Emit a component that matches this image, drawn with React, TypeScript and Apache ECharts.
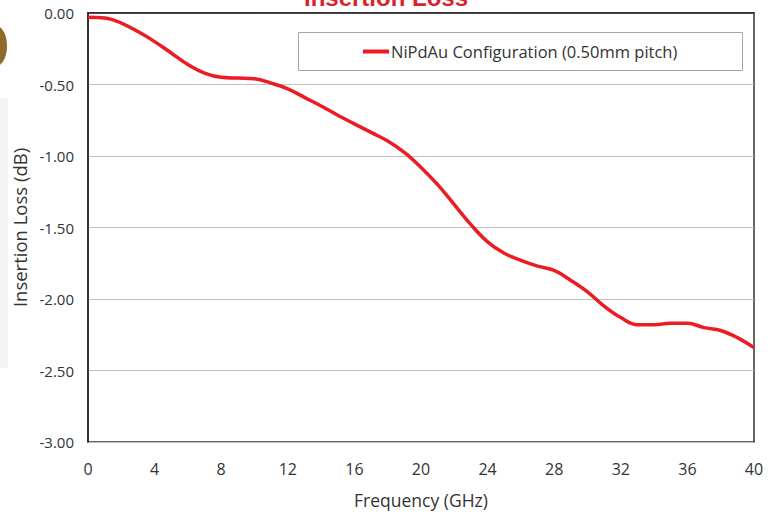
import React, { useEffect, useRef } from "react";
import * as echarts from "echarts";

const seriesName = "NiPdAu Configuration (0.50mm pitch)";
const freqGHz = [0, 1, 2, 3, 4, 5, 6, 7, 8, 9, 10, 11, 12, 13, 14, 15, 16, 17, 18, 19, 20, 21, 22, 23, 24, 25, 26, 27, 28, 29, 30, 31, 32, 33, 34, 35, 36, 37, 38, 39, 40];
const lossDb = [-0.03, -0.035, -0.07, -0.13, -0.2, -0.28, -0.36, -0.42, -0.45, -0.455, -0.46, -0.49, -0.53, -0.59, -0.65, -0.715, -0.775, -0.835, -0.895, -0.975, -1.08, -1.2, -1.34, -1.48, -1.6, -1.68, -1.73, -1.77, -1.8, -1.87, -1.95, -2.05, -2.13, -2.18, -2.18, -2.17, -2.17, -2.2, -2.22, -2.27, -2.34];
const xTicks = { min: 0, max: 40, step: 4 };
const yTicks = { min: -3, max: 0, step: 0.5 };
const titleText = "Insertion Loss";
const xName = "Frequency (GHz)";
const yName = "Insertion Loss (dB)";

export default function App() {
  const ref = useRef<HTMLDivElement>(null);
  useEffect(() => {
    if (!ref.current) return;
    const chart = echarts.init(ref.current, null, { renderer: "svg" });
    const font = "'Open Sans', Lato, sans-serif";
    chart.setOption({
      animation: false,
      backgroundColor: "#ffffff",
      textStyle: { fontFamily: font },
      grid: {
        left: 88,
        right: 21,
        top: 13,
        bottom: 70,
        show: true,
        containLabel: false,
        outerBoundsMode: "none",
        borderColor: "#333333",
        borderWidth: 1.5,
        backgroundColor: "transparent",
      },
      graphic: [
        { type: "rect", shape: { x: 0, y: 98, width: 8, height: 270 }, style: { fill: "#f3f3f3" }, z: -1 },
        { type: "ellipse", shape: { cx: -4, cy: 46, rx: 11, ry: 20 }, style: { fill: "#8f6a2c" } },
        {
          type: "text",
          x: 386,
          y: 9,
          style: {
            text: titleText,
            fill: "#d8232a",
            font: "bold 24px 'Liberation Sans', Arial, sans-serif",
            align: "center",
            verticalAlign: "bottom",
          },
        },
        {
          type: "rect",
          shape: { x: 298.5, y: 32.5, width: 444, height: 38 },
          style: { fill: "#ffffff", stroke: "#a6a6a6", lineWidth: 1 },
          z: 5,
        },
      ],
      legend: {
        data: [seriesName],
        left: 358,
        top: 38,
        icon: "rect",
        itemWidth: 26,
        itemHeight: 4,
        itemGap: 4,
        z: 10,
        textStyle: { fontSize: 16.5, color: "#333333", fontFamily: font, padding: [0, 0, 0, -3] },
      },
      xAxis: {
        type: "value",
        min: xTicks.min,
        max: xTicks.max,
        interval: xTicks.step,
        name: xName,
        nameLocation: "middle",
        nameGap: 49,
        nameTextStyle: { fontSize: 17.5, color: "#333333" },
        axisLine: { show: true, lineStyle: { color: "#222222", width: 1.5 } },
        axisTick: { show: false },
        splitLine: { show: false },
        axisLabel: { fontSize: 16, color: "#333333", margin: 19 },
      },
      yAxis: {
        type: "value",
        min: yTicks.min,
        max: yTicks.max,
        interval: yTicks.step,
        name: yName,
        nameLocation: "middle",
        nameGap: 58,
        nameTextStyle: { fontSize: 18.5, color: "#333333" },
        axisLine: { show: true, lineStyle: { color: "#222222", width: 1.5 } },
        axisTick: { show: false },
        splitLine: { show: true, lineStyle: { color: "#bfbfbf", width: 1 } },
        axisLabel: {
          fontSize: 15,
          color: "#333333",
          margin: 14,
          formatter: (v: number) => v.toFixed(2),
        },
      },
      series: [
        {
          name: seriesName,
          type: "line",
          data: freqGHz.map((f, i) => [f, lossDb[i]]),
          smooth: 0.4,
          symbol: "none",
          lineStyle: { color: "#ec1c24", width: 3.5 },
          itemStyle: { color: "#ec1c24" },
          z: 3,
        },
      ],
    });
    return () => chart.dispose();
  }, []);
  return (
    <div
      ref={ref}
      style={{ position: "fixed", left: 0, top: 0, width: 775, height: 512 }}
    />
  );
}
